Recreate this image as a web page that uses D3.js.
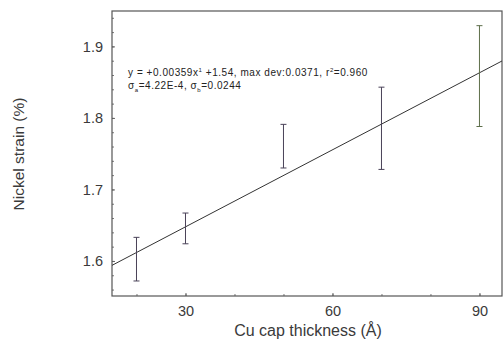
<!DOCTYPE html>
<html>
<head>
<meta charset="utf-8">
<script src="https://cdn.jsdelivr.net/npm/d3@7"></script>
<style>
  body { margin: 0; background: #fff; }
  svg { font-family: 'Liberation Sans', Arial, sans-serif; }
</style>
</head>
<body>
<svg id="chart" width="504" height="350"></svg>
<script>
// Error bar data
const thickness = [20, 30, 50, 70, 90];
const strainLow = [1.572, 1.624, 1.730, 1.728, 1.788];
const strainHigh = [1.633, 1.667, 1.791, 1.843, 1.929];

// Linear fit y = a*x + b
const fitSlope = 0.00359;
const fitIntercept = 1.54;

const xTicks = [30, 60, 90];
const yTicks = [1.6, 1.7, 1.8, 1.9];

const svg = d3.select('#chart');
const margin = { top: 11, right: 2, bottom: 54, left: 112 };
const width = 504 - margin.left - margin.right;
const height = 350 - margin.top - margin.bottom;

const chart = svg.append('g')
  .attr('transform', `translate(${margin.left},${margin.top})`);

const xScale = d3.scaleLinear().domain([15, 94.6]).range([0, width]);
const yScale = d3.scaleLinear().domain([1.551, 1.9495]).range([height, 0]);

// Minor ticks (inward)
const xMinor = d3.range(20, 95, 10);
const yMinor = d3.range(1.56, 1.95, 0.02);

chart.append('g')
  .attr('transform', `translate(0,${height})`)
  .call(d3.axisBottom(xScale).tickValues(xMinor).tickSize(-2).tickFormat(''))
  .call((g) => g.select('.domain').remove())
  .selectAll('line').attr('stroke', '#777');

chart.append('g')
  .call(d3.axisLeft(yScale).tickValues(yMinor).tickSize(-2).tickFormat(''))
  .call((g) => g.select('.domain').remove())
  .selectAll('line').attr('stroke', '#777');

// Major tick labels
const xAxis = chart.append('g')
  .attr('transform', `translate(0,${height})`)
  .call(d3.axisBottom(xScale).tickValues(xTicks).tickSize(-3).tickPadding(10));
xAxis.select('.domain').remove();
xAxis.selectAll('line').attr('stroke', '#666');
xAxis.selectAll('text').attr('font-size', 14.5).attr('fill', '#3a3a3a')
  .attr('font-family', "'Liberation Sans', Arial, sans-serif");

const yAxis = chart.append('g')
  .call(d3.axisLeft(yScale).tickValues(yTicks).tickSize(-3).tickPadding(9)
    .tickFormat(d3.format('.1f')));
yAxis.select('.domain').remove();
yAxis.selectAll('line').attr('stroke', '#666');
yAxis.selectAll('text').attr('font-size', 14.5).attr('fill', '#3a3a3a')
  .attr('font-family', "'Liberation Sans', Arial, sans-serif");

// Frame
chart.append('rect')
  .attr('width', width)
  .attr('height', height)
  .attr('fill', 'none')
  .attr('stroke', '#555')
  .attr('stroke-width', 1.2);

// Fit line
const domain = xScale.domain();
chart.append('line')
  .attr('x1', xScale(domain[0]))
  .attr('y1', yScale(fitSlope * domain[0] + fitIntercept))
  .attr('x2', xScale(domain[1]))
  .attr('y2', yScale(fitSlope * domain[1] + fitIntercept))
  .attr('stroke', '#333')
  .attr('stroke-width', 1);

// Error bars
const bars = chart.selectAll('.err')
  .data(thickness.map((x, i) => ({ x, lo: strainLow[i], hi: strainHigh[i] })))
  .enter().append('g')
  .attr('class', 'err')
  .attr('stroke', (d, i) => (i === 4 ? '#5d6e4a' : '#4a4258'))
  .attr('stroke-width', 1);

bars.append('line')
  .attr('x1', (d) => xScale(d.x)).attr('x2', (d) => xScale(d.x))
  .attr('y1', (d) => yScale(d.lo)).attr('y2', (d) => yScale(d.hi));
bars.append('line')
  .attr('x1', (d) => xScale(d.x) - 3).attr('x2', (d) => xScale(d.x) + 3)
  .attr('y1', (d) => yScale(d.lo)).attr('y2', (d) => yScale(d.lo));
bars.append('line')
  .attr('x1', (d) => xScale(d.x) - 3).attr('x2', (d) => xScale(d.x) + 3)
  .attr('y1', (d) => yScale(d.hi)).attr('y2', (d) => yScale(d.hi));

// Fit annotation
const note = chart.append('g')
  .attr('transform', 'translate(16,65)')
  .attr('font-size', 10)
  .attr('letter-spacing', 0.55)
  .attr('fill', '#222');
const l1 = note.append('text');
l1.append('tspan').text('y = +0.00359x');
l1.append('tspan').attr('dy', -4).attr('font-size', 6).text('1');
l1.append('tspan').attr('dy', 4).text(' +1.54, max dev:0.0371, r');
l1.append('tspan').attr('dy', -4).attr('font-size', 6).text('2');
l1.append('tspan').attr('dy', 4).text('=0.960');
const l2 = note.append('text').attr('y', 12.5);
l2.append('tspan').text('σ');
l2.append('tspan').attr('dy', 3).attr('font-size', 6).text('a');
l2.append('tspan').attr('dy', -3).text('=4.22E-4, σ');
l2.append('tspan').attr('dy', 3).attr('font-size', 6).text('b');
l2.append('tspan').attr('dy', -3).text('=0.0244');

// Axis titles
svg.append('text')
  .attr('x', margin.left + xScale(55))
  .attr('y', 336)
  .attr('text-anchor', 'middle')
  .attr('font-size', 16)
  .attr('fill', '#3a3a3a')
  .text('Cu cap thickness (Å)');

svg.append('text')
  .attr('transform', `translate(24,${154}) rotate(-90)`)
  .attr('text-anchor', 'middle')
  .attr('font-size', 15.5)
  .attr('fill', '#3a3a3a')
  .text('Nickel strain (%)');
</script>
</body>
</html>
